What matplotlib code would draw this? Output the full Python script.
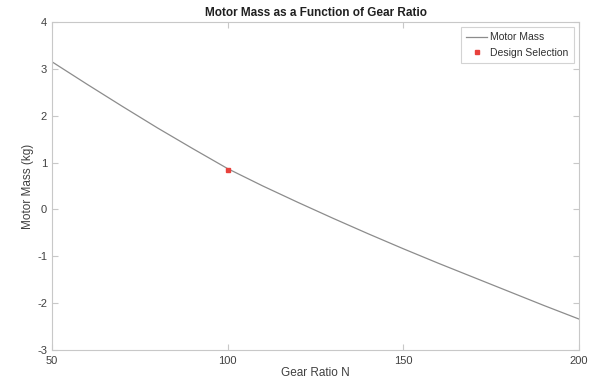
import matplotlib
matplotlib.use('Agg')
import matplotlib.pyplot as plt

gear_ratio = [50, 60, 70, 80, 90, 100, 110, 120, 130, 140, 150, 160, 170, 180, 190, 200]
motor_mass = [3.15, 2.67, 2.20, 1.74, 1.30, 0.87, 0.50, 0.15, -0.19, -0.52,
              -0.84, -1.15, -1.45, -1.75, -2.05, -2.34]
design_ratio = [100]
design_mass = [0.85]

plt.rcParams['font.family'] = ['Liberation Sans', 'DejaVu Sans']
plt.rcParams['axes.unicode_minus'] = False

fig = plt.figure(figsize=(6.02, 3.83), dpi=100)
ax = fig.add_axes([0.0864, 0.0862, 0.8754, 0.8564])

ax.plot(gear_ratio, motor_mass, color='#8c8c8c', linewidth=0.9, label='Motor Mass')
ax.plot(design_ratio, design_mass, linestyle='none', marker='s', markersize=3,
        color='#e8413c', label='Design Selection')

ax.set_xlim(50, 200)
ax.set_ylim(-3, 4)
ax.set_xticks([50, 100, 150, 200])
ax.set_yticks([-3, -2, -1, 0, 1, 2, 3, 4])

for s in ax.spines.values():
    s.set_color('#c8c8c8')
    s.set_linewidth(0.8)
ax.tick_params(direction='in', length=4, color='#c8c8c8', labelsize=8,
               labelcolor='#404040', top=True, right=True)
ax.tick_params(axis='x', pad=4)

ax.set_title('Motor Mass as a Function of Gear Ratio', fontsize=8.5,
             fontweight='bold', color='#202020', pad=4)
ax.set_xlabel('Gear Ratio N', fontsize=8.5, color='#404040', labelpad=1)
ax.set_ylabel('Motor Mass (kg)', fontsize=8.5, color='#404040', labelpad=2)

leg = ax.legend(loc='upper right', fontsize=7.5, frameon=True, fancybox=False,
                borderpad=0.5, handlelength=2.0, handletextpad=0.3,
                labelspacing=0.5, borderaxespad=0.5)
leg.get_frame().set_edgecolor('#c8c8c8')
leg.get_frame().set_linewidth(0.8)
for t in leg.get_texts():
    t.set_color('#303030')

fig.savefig('out.png', dpi=100)
